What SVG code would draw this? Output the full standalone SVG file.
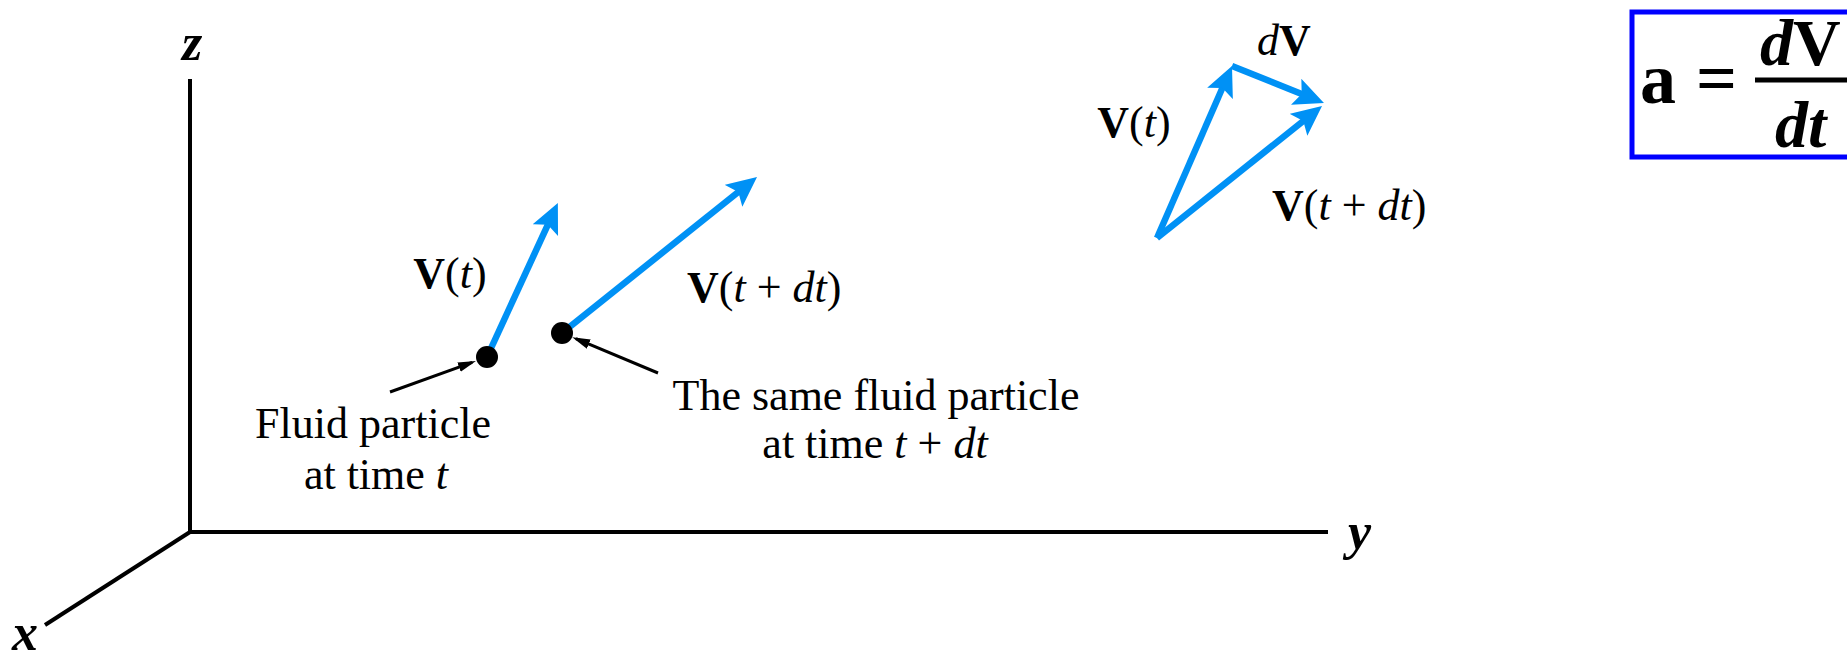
<svg xmlns="http://www.w3.org/2000/svg" width="1847" height="659" viewBox="0 0 1847 659">
<style>
text{font-family:"Liberation Serif","Times New Roman",serif;fill:#000;}
.lbl{font-size:44px;}
.ax{font-size:52px;font-style:italic;font-weight:bold;}
.b{font-weight:bold;}
.i{font-style:italic;}
.axis{stroke:#000;stroke-width:4;fill:none;}
.vec{stroke:#0091f5;stroke-width:6.5;fill:none;marker-end:url(#bh);}
.lead{stroke:#000;stroke-width:3;fill:none;marker-end:url(#kh);}
</style>
<defs>
<marker id="bh" markerUnits="userSpaceOnUse" markerWidth="30" markerHeight="28" viewBox="0 0 30 28" refX="10" refY="14" orient="auto">
<path d="M0,0 L30,14 L0,28 L6,14 z" fill="#0091f5"/>
</marker>
<marker id="kh" markerUnits="userSpaceOnUse" markerWidth="18" markerHeight="10" viewBox="0 0 18 10" refX="14" refY="5" orient="auto">
<path d="M0,0 L18,5 L0,10 z" fill="#000"/>
</marker>
</defs>
<rect width="1847" height="659" fill="#fff"/>

<g id="axes">
<line class="axis" x1="190" y1="79" x2="190" y2="532"/>
<line class="axis" x1="188" y1="532" x2="1328" y2="532"/>
<line class="axis" x1="190" y1="532" x2="45" y2="625"/>
<text class="ax" x="182" y="60">z</text>
<text class="ax" x="1348" y="549">y</text>
<text class="ax" x="12" y="650">x</text>
</g>

<g id="connectors">
<line class="vec" x1="487" y1="357" x2="549.5" y2="221.1"/>
<line class="vec" x1="562" y1="333" x2="741.4" y2="189.5"/>
<line class="vec" x1="1157" y1="238" x2="1224" y2="84.3"/>
<line class="vec" x1="1232" y1="66" x2="1305.4" y2="95.5"/>
<line class="vec" x1="1157" y1="238" x2="1306.4" y2="118.5"/>
<line class="lead" x1="390" y1="392" x2="472.2" y2="362.4"/>
<line class="lead" x1="658" y1="373" x2="575.9" y2="338.7"/>
</g>

<g id="particle1">
<circle cx="487" cy="357" r="11" fill="#000"/>
<text class="lbl" x="450" y="288" text-anchor="middle"><tspan class="b">V</tspan>(<tspan class="i">t</tspan>)</text>
<text class="lbl" x="373" y="438" text-anchor="middle">Fluid particle</text>
<text class="lbl" x="376" y="489" text-anchor="middle">at time <tspan class="i">t</tspan></text>
</g>

<g id="particle2">
<circle cx="562" cy="333" r="11" fill="#000"/>
<text class="lbl" x="687" y="302"><tspan class="b">V</tspan>(<tspan class="i">t</tspan> + <tspan class="i">dt</tspan>)</text>
<text class="lbl" x="876" y="410" text-anchor="middle">The same fluid particle</text>
<text class="lbl" x="875" y="458" text-anchor="middle">at time <tspan class="i">t</tspan> + <tspan class="i">dt</tspan></text>
</g>

<g id="triangle">
<text class="lbl" x="1134" y="137" text-anchor="middle"><tspan class="b">V</tspan>(<tspan class="i">t</tspan>)</text>
<text class="lbl" x="1272" y="220"><tspan class="b">V</tspan>(<tspan class="i">t</tspan> + <tspan class="i">dt</tspan>)</text>
<text class="lbl" x="1257" y="55"><tspan class="i">d</tspan><tspan class="b">V</tspan></text>
</g>

<g id="formula">
<rect x="1632" y="12" width="300" height="145" fill="none" stroke="#0000ff" stroke-width="5"/>
<text x="1640" y="103" style="font-size:72px;font-weight:bold">a</text>
<text x="1696" y="102" style="font-size:72px;font-weight:bold">=</text>
<line x1="1755" y1="80" x2="1847" y2="80" stroke="#000" stroke-width="5"/>
<text x="1760" y="65" style="font-size:66px;font-weight:bold"><tspan class="i">d</tspan>V</text>
<text x="1775" y="147" style="font-size:66px;font-weight:bold;font-style:italic">dt</text>
</g>
</svg>
